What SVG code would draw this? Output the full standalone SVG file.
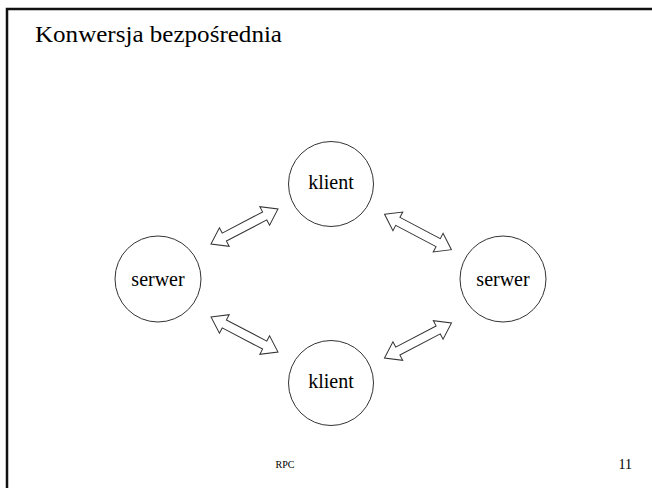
<svg xmlns="http://www.w3.org/2000/svg" width="652" height="488" viewBox="0 0 652 488">
<style>
.node circle{fill:#fff;stroke:#333;stroke-width:1}
.node text{font-family:"Liberation Serif",serif;font-size:20px;text-anchor:middle;fill:#000}
.arr{fill:#fff;stroke:#333;stroke-width:1;stroke-linejoin:miter}
</style>
<defs>
<path id="dbl" d="M-37.8,0 L-22.8,-10.5 L-22.8,-4.5 L22.8,-4.5 L22.8,-10.5 L37.8,0 L22.8,10.5 L22.8,4.5 L-22.8,4.5 L-22.8,10.5 Z"/>
</defs>
<rect width="652" height="488" fill="#fff"/>
<rect x="7" y="9" width="680" height="520" fill="none" stroke="#111" stroke-width="2.5"/>
<text x="35" y="42" font-family="'Liberation Serif',serif" font-size="23" textLength="247" lengthAdjust="spacingAndGlyphs" fill="#000">Konwersja bezpośrednia</text>
<g id="klient-top" class="node"><circle cx="331" cy="184" r="42.5"/><text x="331" y="189">klient</text></g>
<g id="serwer-left" class="node"><circle cx="158" cy="279" r="43"/><text x="158" y="286">serwer</text></g>
<g id="serwer-right" class="node"><circle cx="503" cy="279" r="43"/><text x="503" y="286">serwer</text></g>
<g id="klient-bottom" class="node"><circle cx="331" cy="383" r="42.5"/><text x="331" y="388">klient</text></g>
<g id="connectors">
<use href="#dbl" class="arr" transform="translate(244.5,226.5) rotate(-27.6)"/>
<use href="#dbl" class="arr" transform="translate(418,232) rotate(27.9)"/>
<use href="#dbl" class="arr" transform="translate(244.5,334.5) rotate(27.6)"/>
<use href="#dbl" class="arr" transform="translate(418,340.5) rotate(-27.6)"/>
</g>
<text x="285" y="468" font-family="Liberation Serif,serif" font-size="10" text-anchor="middle" fill="#000">RPC</text>
<text x="632" y="469" font-family="Liberation Serif,serif" font-size="14" text-anchor="end" fill="#000">11</text>
</svg>
